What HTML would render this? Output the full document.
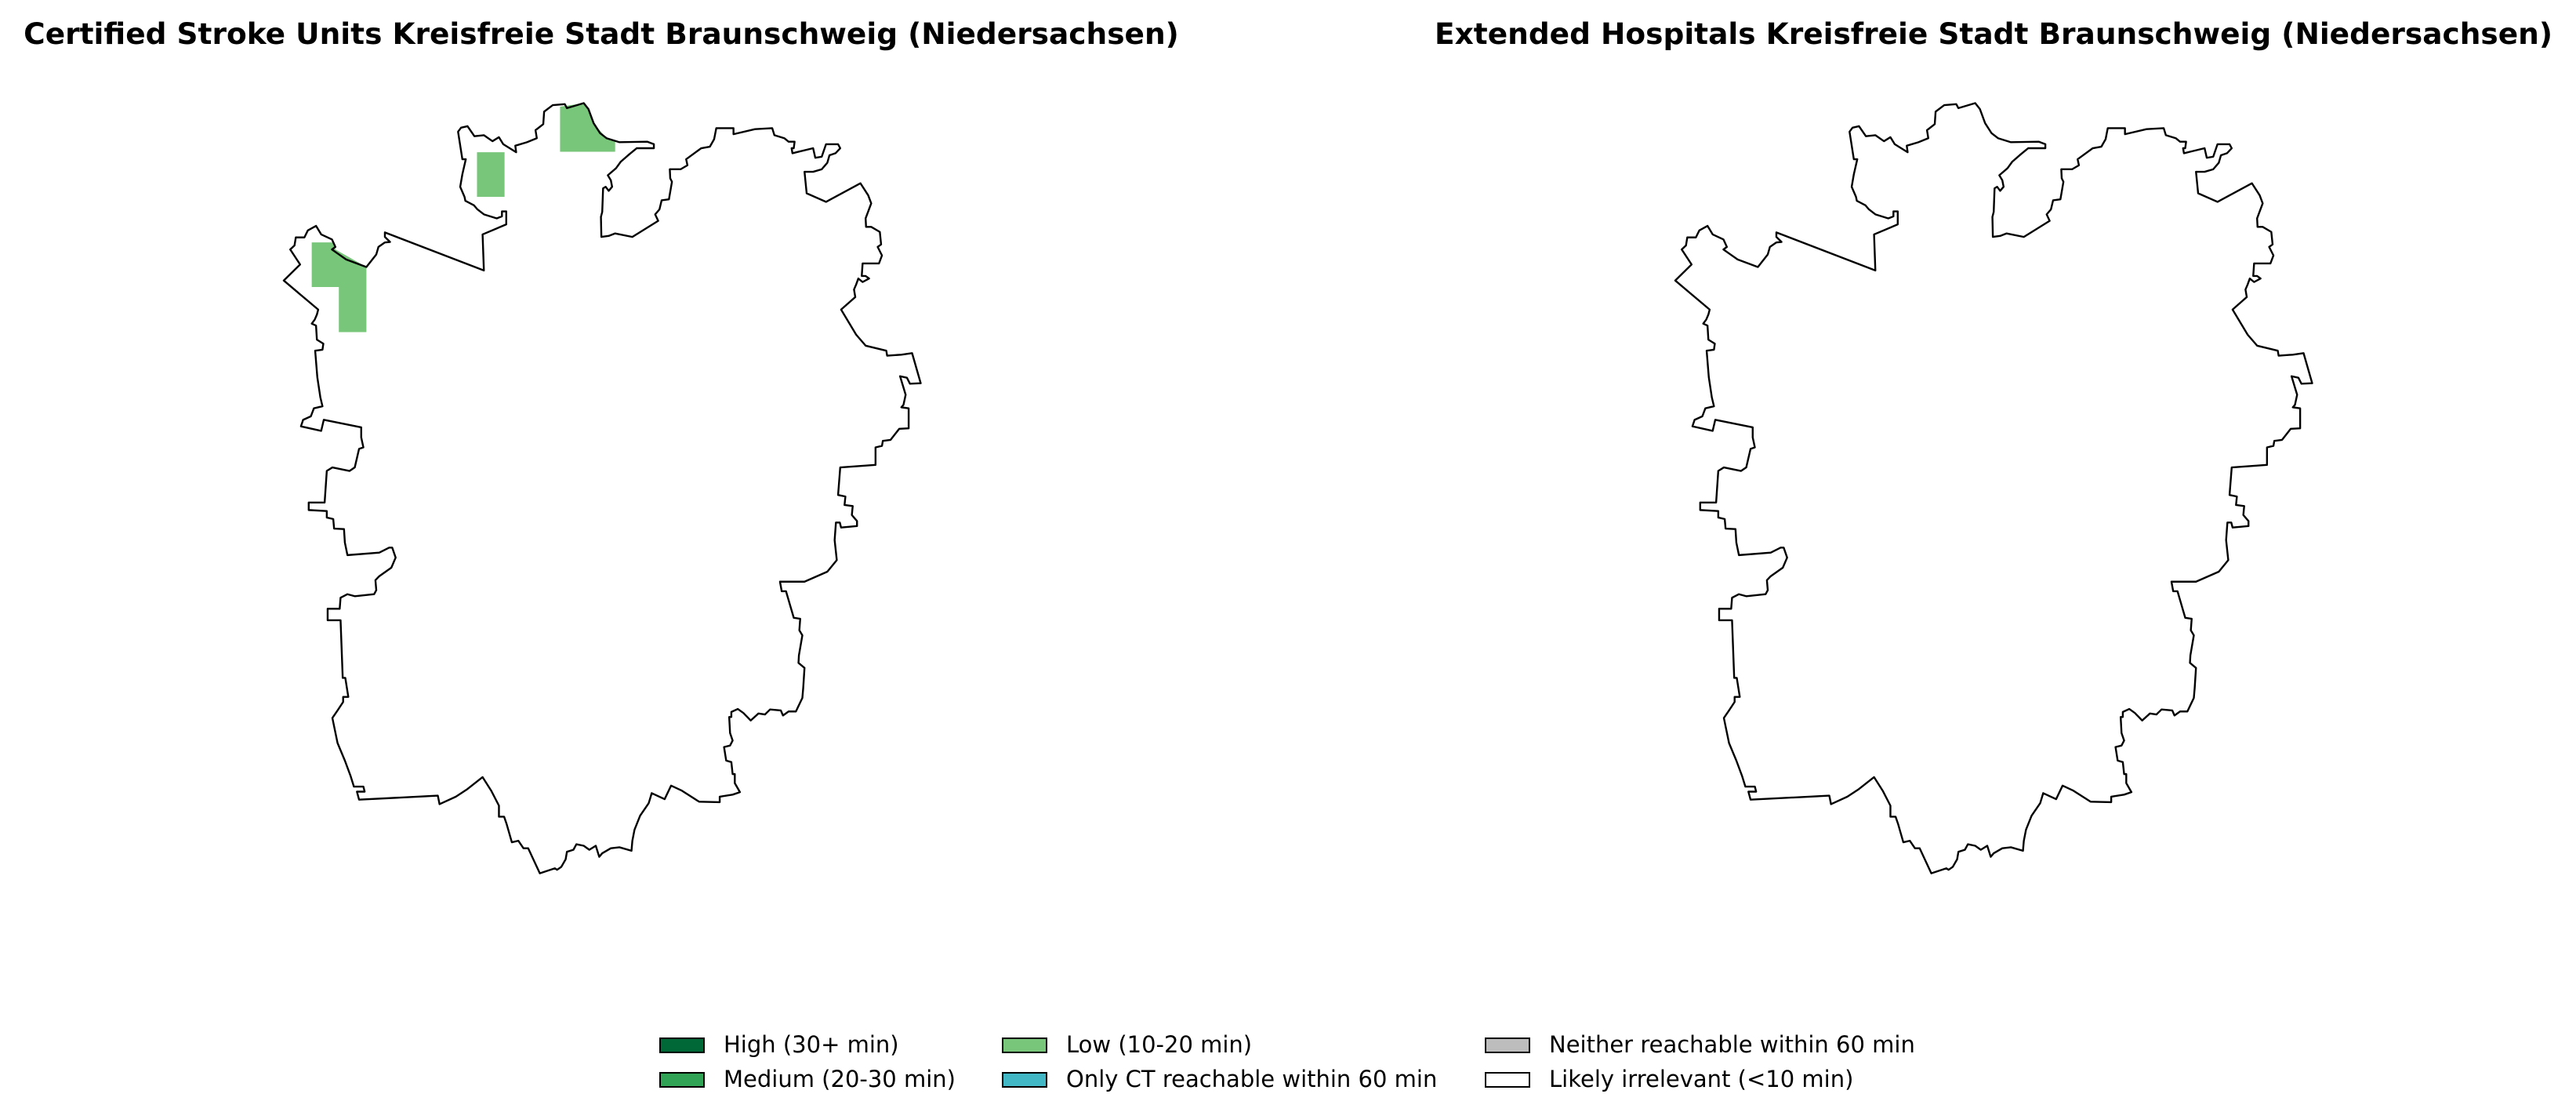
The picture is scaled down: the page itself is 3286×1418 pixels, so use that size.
<!DOCTYPE html>
<html><head><meta charset="utf-8"><style>
html,body{margin:0;padding:0;background:#fff;}
body{width:3286px;height:1418px;position:relative;overflow:hidden;font-family:"Liberation Sans","DejaVu Sans",sans-serif;}
.title{position:absolute;top:21px;font-weight:bold;font-size:37.5px;font-family:"DejaVu Sans","Liberation Sans",sans-serif;white-space:nowrap;transform:translateX(-50%);}
.leg{position:absolute;font-size:29px;font-family:"DejaVu Sans","Liberation Sans",sans-serif;white-space:nowrap;}
.patch{position:absolute;width:58px;height:20px;border:2px solid #000;box-sizing:border-box;}
</style></head><body>
<div class="title" style="left:767px">Certified Stroke Units Kreisfreie Stadt Braunschweig (Niedersachsen)</div>
<div class="title" style="left:2543px">Extended Hospitals Kreisfreie Stadt Braunschweig (Niedersachsen)</div>
<svg id="maps" width="3286" height="1418" style="position:absolute;left:0;top:0">
<g id="left" transform="translate(340,120) scale(0.549,0.639)">
<g fill="#78c679">
<polygon points="105,296 155,296 160,310 232,345 232,475 168,475 168,385 105,385"/>
<rect x="489" y="116" width="64" height="89"/>
<polygon points="682,25 740,18 760,58 790,88 810,95 810,115 682,115"/>
</g>
</g>
<g id="right" transform="translate(2115,120) scale(0.549,0.639)"></g>
</svg>
<div>
<div class="patch" style="left:841px;top:1323px;background:#006837"></div>
<div class="leg" style="left:923px;top:1315px">High (30+ min)</div>
<div class="patch" style="left:841px;top:1367px;background:#31a354"></div>
<div class="leg" style="left:923px;top:1359px">Medium (20-30 min)</div>
<div class="patch" style="left:1278px;top:1323px;background:#78c679"></div>
<div class="leg" style="left:1360px;top:1315px">Low (10-20 min)</div>
<div class="patch" style="left:1278px;top:1367px;background:#41b6c4"></div>
<div class="leg" style="left:1360px;top:1359px">Only CT reachable within 60 min</div>
<div class="patch" style="left:1894px;top:1323px;background:#bdbdbd"></div>
<div class="leg" style="left:1976px;top:1315px">Neither reachable within 60 min</div>
<div class="patch" style="left:1894px;top:1367px;background:#fff"></div>
<div class="leg" style="left:1976px;top:1359px">Likely irrelevant (&lt;10 min)</div>
</div>
<script>
const boundary="40,372 78,340 55,310 65,302 68,286 88,286 96,272 115,263 127,280 152,290 160,305 152,310 165,318 185,330 232,345 255,320 260,305 275,296 287,295 275,285 275,276 505,352 502,280 557,260 557,234 547,234 547,244 535,248 505,240 490,230 482,222 462,213 460,205 450,185 455,160 463,130 455,130 445,75 452,67 467,64 483,84 505,82 525,94 540,86 550,100 580,116 578,103 605,96 628,88 625,72 643,60 645,35 665,22 693,20 698,28 737,18 748,30 760,58 775,78 790,88 820,96 885,95 900,100 900,108 860,108 843,120 823,135 812,148 793,162 800,172 803,185 795,193 788,185 782,188 780,235 777,245 778,285 795,283 810,278 850,285 910,253 903,240 913,230 918,212 935,210 942,175 938,168 937,150 962,150 978,142 975,130 1010,108 1030,105 1040,90 1045,68 1085,68 1085,80 1135,70 1175,68 1180,82 1203,88 1213,95 1227,95 1225,108 1220,108 1222,118 1270,108 1275,127 1290,125 1300,100 1328,100 1333,108 1322,118 1308,122 1303,137 1290,150 1270,155 1250,155 1255,198 1300,215 1380,178 1398,202 1405,218 1392,248 1393,265 1405,265 1425,275 1428,300 1420,305 1430,322 1423,338 1385,338 1383,363 1392,363 1400,368 1385,375 1375,368 1370,380 1365,390 1368,405 1335,430 1370,480 1392,502 1440,512 1442,522 1475,520 1500,517 1520,577 1495,578 1488,566 1472,563 1485,600 1480,620 1475,625 1492,627 1492,667 1470,668 1450,690 1432,692 1430,702 1415,705 1415,740 1333,745 1328,800 1345,803 1343,820 1362,822 1360,840 1372,852 1372,862 1335,865 1332,855 1323,855 1320,890 1325,930 1303,953 1250,973 1193,973 1197,992 1207,992 1225,1045 1240,1047 1238,1070 1245,1080 1237,1120 1236,1135 1250,1145 1247,1185 1245,1205 1230,1232 1213,1232 1200,1240 1195,1230 1170,1228 1158,1238 1143,1236 1125,1250 1108,1235 1095,1227 1080,1233 1080,1243 1075,1243 1077,1275 1083,1290 1077,1300 1063,1303 1068,1330 1080,1333 1083,1357 1088,1357 1088,1375 1100,1393 1083,1398 1053,1402 1053,1413 1005,1412 965,1390 940,1380 925,1407 895,1395 888,1415 868,1440 855,1468 850,1490 848,1510 820,1503 800,1505 780,1515 773,1522 765,1500 750,1508 737,1500 720,1497 713,1508 698,1512 695,1527 685,1542 675,1548 670,1545 635,1555 608,1505 597,1505 585,1490 570,1493 558,1457 552,1442 540,1442 540,1420 522,1390 502,1363 465,1388 440,1402 402,1417 398,1400 215,1408 210,1392 228,1392 225,1382 203,1382 195,1360 182,1330 165,1295 153,1245 165,1230 178,1213 178,1203 190,1203 183,1165 177,1165 172,1050 142,1050 142,1027 170,1027 172,1005 188,998 205,1002 250,998 255,990 253,970 262,962 290,945 300,925 292,905 285,905 262,915 188,920 182,895 180,868 157,867 155,848 140,845 140,832 98,830 98,815 135,815 140,752 153,745 193,752 205,745 215,708 225,705 220,685 220,665 133,650 127,672 80,663 85,650 103,643 110,627 130,623 125,605 118,565 113,512 130,510 132,498 117,490 115,462 105,458 112,450 117,440 120,430";
const ns="http://www.w3.org/2000/svg";
for (const id of ["left","right"]) {
  const p=document.createElementNS(ns,"polygon");
  p.setAttribute("points",boundary);
  p.setAttribute("fill","none");
  p.setAttribute("stroke","#000");
  p.setAttribute("stroke-width","2.4");
  p.setAttribute("stroke-linejoin","round");
  p.setAttribute("vector-effect","non-scaling-stroke");
  
  
  document.getElementById(id).appendChild(p);
}
</script>
</body></html>
